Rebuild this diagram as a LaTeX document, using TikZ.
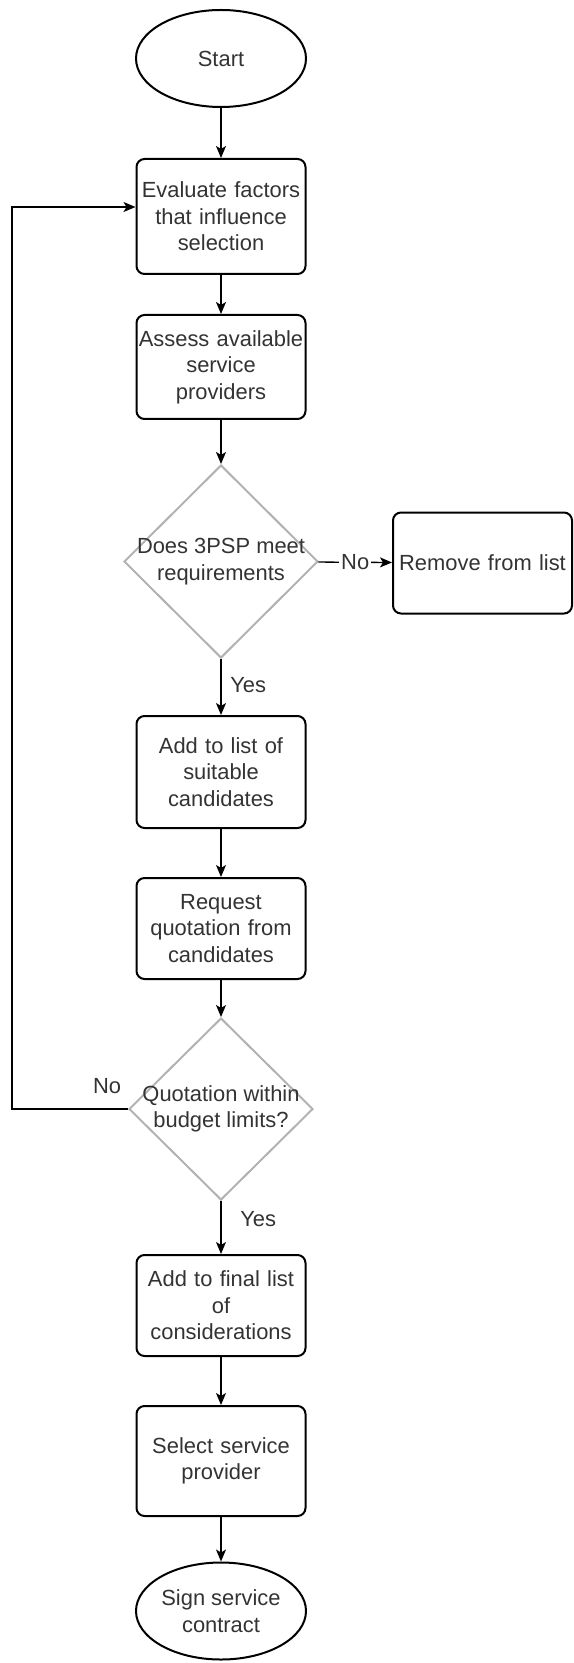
\documentclass[tikz,border=0pt]{standalone}
\usepackage{fontspec}
\setmainfont{Liberation Sans}
\usetikzlibrary{shapes.geometric,arrows.meta}

\newcommand*{\pagew}{573}
\newcommand*{\pageh}{1663}
\newcommand*{\colx}{221}
\newcommand*{\loopx}{12}

\tikzset{
	txt/.style={font=\fontsize{10.95pt}{13.25pt}\selectfont,text=black!80},
	process/.style={txt,draw,line width=1pt,rounded corners=4pt,align=center,
		inner sep=0pt,text width=84pt,minimum width=84.5pt},
	terminal/.style={txt,draw,line width=1pt,ellipse,align=center,inner sep=0pt,
		minimum width=85pt,minimum height=48.5pt},
	decision/.style={diamond,draw=black!30,line width=1pt,inner sep=0pt},
	flow/.style={->,line width=0.65pt},
}

\begin{document}
\begin{tikzpicture}[x=0.5pt,y=-0.5pt,>={Stealth[length=6pt,width=5pt,inset=1.5pt]}]

	\useasboundingbox (0,0) rectangle (\pagew,\pageh);

	\node[terminal] (start) at (\colx,58.5) {Start};
	\node[process,minimum height=57.5pt] (eval) at (\colx,216.5) {Evaluate factors\\that influence\\selection};
	\node[process,minimum height=52pt] (assess) at (\colx,367) {Assess available\\service\\providers};
	\node[decision,minimum width=97pt,minimum height=96.5pt,
		label={[txt,align=center]center:Does 3PSP meet\\requirements}] (meet) at (\colx,561.5) {};
	\node[process,text width=89pt,minimum width=89.5pt,minimum height=50.5pt] (remove) at (482.5,563) {Remove from list};
	\node[process,minimum height=56pt] (addlist) at (\colx,772) {Add to list of\\suitable\\candidates};
	\node[process,minimum height=50.5pt] (request) at (\colx,928.5) {Request\\quotation from\\candidates};
	\node[decision,minimum width=92pt,minimum height=91pt,
		label={[txt,align=center]center:Quotation within\\budget limits?}] (budget) at (\colx,1109) {};
	\node[process,minimum height=50.5pt] (final) at (\colx,1305.5) {Add to final list\\of\\considerations};
	\node[process,minimum height=55pt] (select) at (\colx,1461) {Select service\\provider};
	\node[terminal] (sign) at (\colx,1611) {Sign service\\contract};

	% main flow
	\draw[flow] (start) -- (eval);
	\draw[flow] (eval) -- (assess);
	\draw[flow] (assess) -- (meet);
	\draw[flow] (meet) -- node[txt,fill=white,inner sep=1pt] {No} (remove);
	\draw[flow] (meet) -- node[txt,right=1pt,pos=0.47] {Yes} (addlist);
	\draw[flow] (addlist) -- (request);
	\draw[flow] (request) -- (budget);
	\draw[flow] (budget) -- node[txt,right=6pt,pos=0.35] {Yes} (final);
	\draw[flow] (final) -- (select);
	\draw[flow] (select) -- (sign);

	% back to the start
	\draw[flow] (budget.west) -- node[txt,above=4pt,pos=0.18] {No} (\loopx,1109)
		|- ([yshift=4.75pt]eval.west);

\end{tikzpicture}
\end{document}
